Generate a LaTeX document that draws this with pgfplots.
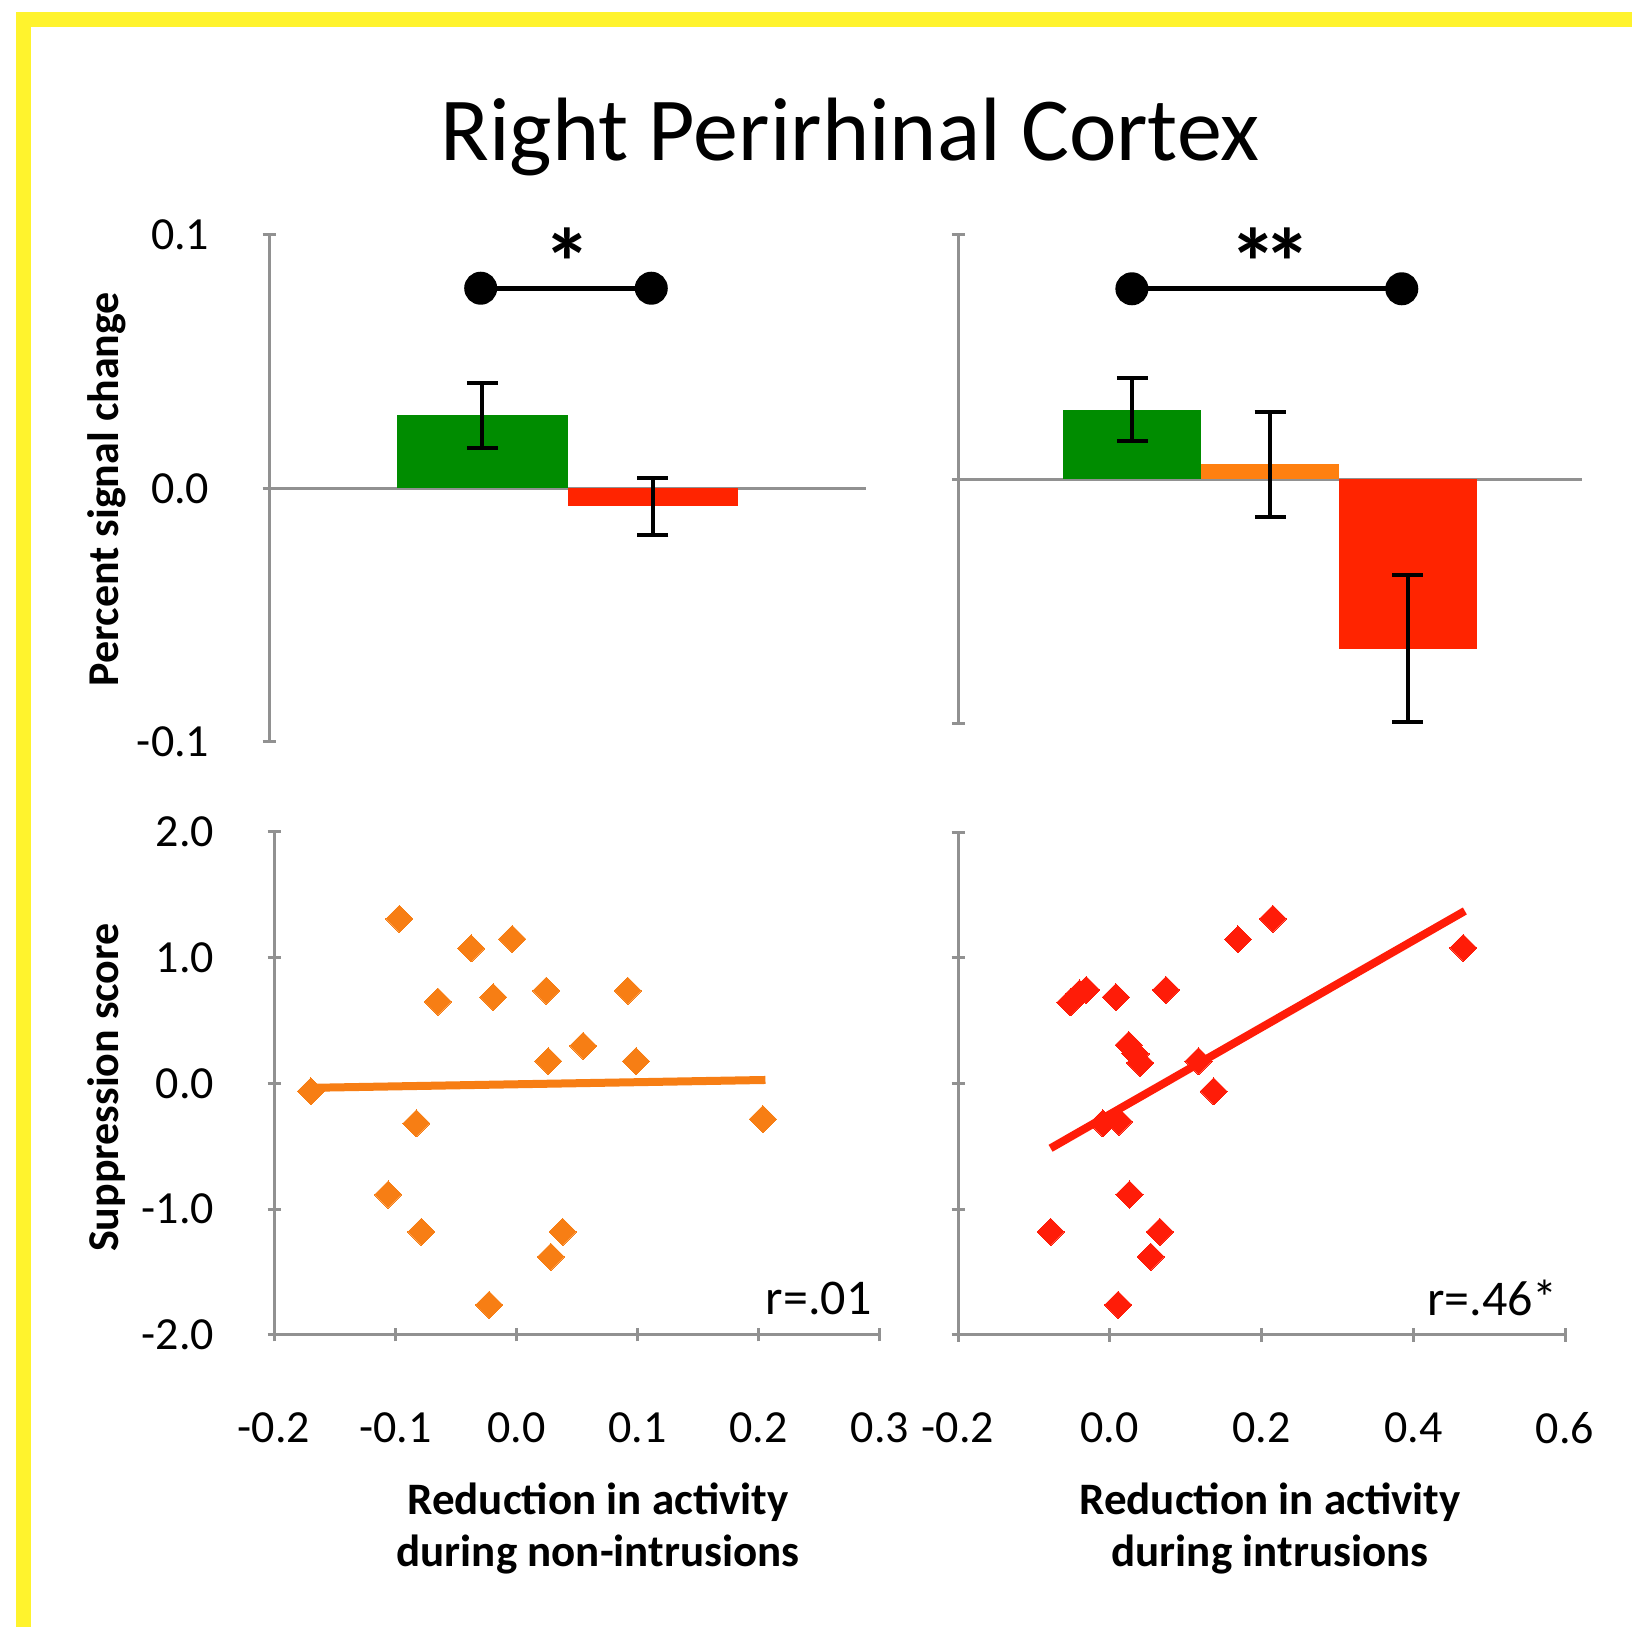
\documentclass[border=0pt]{standalone}
\usepackage{fontspec}
\setmainfont{Carlito}
\usepackage{pgfplots}
\pgfplotsset{compat=1.18}
\definecolor{barGreen}{RGB}{0,140,0}
\definecolor{barOrange}{RGB}{255,128,16}
\definecolor{barRed}{RGB}{255,36,0}
\definecolor{sOrange}{RGB}{247,126,20}
\definecolor{sRed}{RGB}{255,28,8}
\definecolor{axgray}{RGB}{145,145,145}
\definecolor{frameY}{RGB}{255,243,45}
\pgfplotsset{
  base/.style={
    scale only axis, anchor=south west, clip=false,
    tick align=outside, major tick length=6.5pt,
    tick style={draw=axgray, line width=1.5pt},
    /pgf/number format/assume math mode=true,
    tick label style={font=\fontsize{23}{27}\selectfont, inner sep=0pt},
    yticklabel style={anchor=east, xshift=-26.5pt},
    xticklabel style={anchor=north, yshift=-35.5pt},
  },
  noarrow/.style={axis line style={-, draw=axgray, line width=1.5pt}},
  bars/.style={ybar, bar width=1, draw=none,
    error bars/y dir=both, error bars/y explicit,
    error bars/error mark=|,
    error bars/error bar style={line width=2pt, draw=black},
    error bars/error mark options={line width=2pt, mark size=7.75pt, draw=black}},
  sig/.style={black, line width=2.5pt, mark=*, mark size=7pt},
}
\begin{document}
\begin{tikzpicture}
\path[use as bounding box, fill=white] (0,0) rectangle (816pt,813.5pt);
\fill[frameY] (8pt,0) rectangle (15.5pt,807.5pt);
\fill[frameY] (8pt,800pt) rectangle (816pt,807.5pt);

\node[anchor=base, font=\fontsize{45}{50}\selectfont] at (425pt,733pt) {Right Perirhinal Cortex};

% top left
\begin{axis}[base, at={(134.6pt,442.5pt)}, width=298.5pt, height=253.5pt,
  xmin=0, xmax=3.5, ymin=-0.1, ymax=0.1,
  axis x line=none, axis y line=left, noarrow,
  xtick=\empty, ytick={-0.1,0,0.1}, yticklabels={-0.1,0.0,0.1}]
\draw[axgray, line width=1.5pt] (axis cs:0,0) -- (axis cs:3.5,0);
\addplot[fill=barGreen, bars] coordinates {(1.25,0.0288) +- (0,0.0129)};
\addplot[fill=barRed, bars] coordinates {(2.25,-0.0070) +- (0,0.0112)};
\addplot[sig] coordinates {(1.24,0.079) (2.24,0.079)};
\node[font=\bfseries\fontsize{48}{48}\selectfont, yshift=-9pt] at (axis cs:1.75,0.0963) {*};
\end{axis}

% top right
\begin{axis}[base, at={(479.2pt,451.5pt)}, width=311.6pt, height=244.5pt,
  xmin=0, xmax=4.526, ymin=-0.1, ymax=0.1,
  axis x line=none, axis y line=left, noarrow,
  xtick=\empty, ytick={-0.1,0,0.1}, yticklabels={}]
\draw[axgray, line width=1.5pt] (axis cs:0,0) -- (axis cs:4.526,0);
\addplot[fill=barGreen, bars] coordinates {(1.263,0.0286) +- (0,0.0128)};
\addplot[fill=barOrange, bars] coordinates {(2.263,0.0063) +- (0,0.0215)};
\addplot[fill=barRed, bars] coordinates {(3.263,-0.0692) +- (0,0.0301)};
\addplot[sig] coordinates {(1.26,0.078) (3.22,0.078)};
\node[font=\bfseries\fontsize{48}{48}\selectfont, yshift=-9pt] at (axis cs:2.263,0.0963) {*\kern-7pt*};
\end{axis}

% bottom left
\begin{axis}[base, at={(137pt,146pt)}, width=303pt, height=251.5pt,
  xmin=-0.2, xmax=0.3, ymin=-2, ymax=2,
  axis lines=left, noarrow,
  xtick={-0.2,-0.1,0,0.1,0.2,0.3}, xticklabels={-0.2,-0.1,0.0,0.1,0.2,0.3},
  ytick={-2,-1,0,1,2}, yticklabels={-2.0,-1.0,0.0,1.0,2.0}]
\addplot[only marks, mark=square*, mark size=4.8pt, mark options={rotate=45, fill=sOrange, draw=sOrange, line width=0pt}] table {
x y
-0.1695 -0.062
-0.0966 1.31
-0.0373 1.075
-0.0034 1.149
-0.0648 0.651
-0.0191 0.687
0.0246 0.738
0.0919 0.738
0.0551 0.300
0.0263 0.178
0.0987 0.178
-0.0826 -0.317
0.2034 -0.283
-0.1059 -0.883
-0.0784 -1.180
0.0381 -1.180
0.0284 -1.378
-0.0225 -1.760
};
\addplot[sOrange, line width=4pt] coordinates {(-0.167,-0.034) (0.2055,0.028)};
\end{axis}
\node[anchor=east, inner sep=0pt, font=\fontsize{25}{30}\selectfont] at (436pt,164.5pt) {r=.01};

% bottom right
\begin{axis}[base, at={(479pt,146pt)}, width=303.5pt, height=251.5pt,
  xmin=-0.2, xmax=0.6, ymin=-2, ymax=2,
  axis lines=left, noarrow,
  xtick={-0.2,0,0.2,0.4,0.6}, xticklabels={-0.2,0.0,0.2,0.4,0.6},
  ytick={-2,-1,0,1,2}, yticklabels={}]
\addplot[only marks, mark=square*, mark size=4.8pt, mark options={rotate=45, fill=sRed, draw=sRed, line width=0pt}] table {
x y
-0.078 -1.18
-0.052 0.645
-0.040 0.716
-0.031 0.744
0.008 0.687
0.074 0.744
0.025 0.306
0.034 0.235
0.040 0.164
0.117 0.178
0.137 -0.062
-0.009 -0.317
0.012 -0.303
0.026 -0.883
0.066 -1.18
0.054 -1.378
0.011 -1.760
0.169 1.146
0.215 1.31
0.466 1.078
};
\addplot[sRed, line width=4pt] coordinates {(-0.078,-0.515) (0.468,1.372)};
\end{axis}
\node[anchor=east, inner sep=0pt, font=\fontsize{25}{30}\selectfont] at (779pt,164.5pt) {r=.46*};

% axis titles
\node[rotate=90, font=\bfseries\fontsize{22}{26}\selectfont] at (53.5pt,569pt) {Percent signal change};
\node[rotate=90, font=\bfseries\fontsize{22}{26}\selectfont] at (53.5pt,269.7pt) {Suppression score};
\node[align=center, font=\bfseries\fontsize{22.5}{26}\selectfont] at (299pt,49.5pt) {Reduction in activity\\during non-intrusions};
\node[align=center, font=\bfseries\fontsize{22.5}{26}\selectfont] at (635pt,49.5pt) {Reduction in activity\\during intrusions};
\end{tikzpicture}
\end{document}
